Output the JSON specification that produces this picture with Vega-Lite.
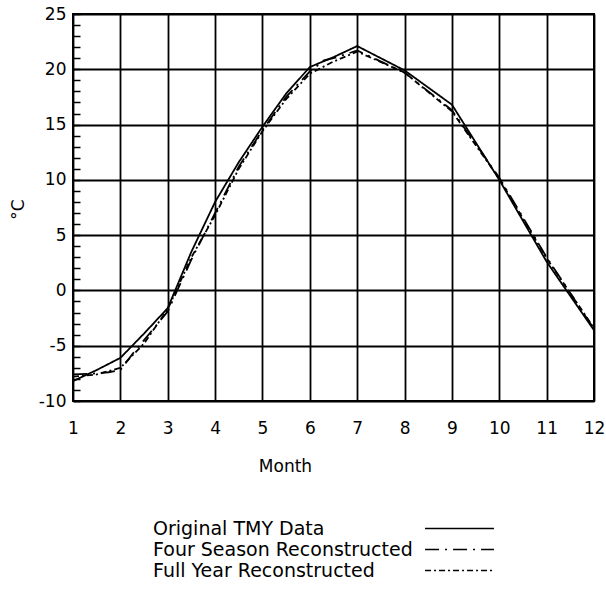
{
  "$schema": "https://vega.github.io/schema/vega-lite/v6.json",
  "width": 521,
  "height": 387,
  "autosize": "none",
  "padding": {"left": 73, "top": 14, "right": 12, "bottom": 190},
  "background": "white",
  "config": {"font": "DejaVu Sans", "view": {"stroke": "black", "strokeWidth": 2}},
  "data": {"values": [
    {"series": "Original TMY Data", "month": 1, "temp": -8.2},
    {"series": "Original TMY Data", "month": 1.5, "temp": -7.2},
    {"series": "Original TMY Data", "month": 2, "temp": -6.1},
    {"series": "Original TMY Data", "month": 2.5, "temp": -3.9},
    {"series": "Original TMY Data", "month": 3, "temp": -1.6},
    {"series": "Original TMY Data", "month": 3.5, "temp": 3.5},
    {"series": "Original TMY Data", "month": 4, "temp": 8.0},
    {"series": "Original TMY Data", "month": 4.5, "temp": 11.6},
    {"series": "Original TMY Data", "month": 5, "temp": 14.8},
    {"series": "Original TMY Data", "month": 5.5, "temp": 17.8},
    {"series": "Original TMY Data", "month": 6, "temp": 20.2},
    {"series": "Original TMY Data", "month": 6.5, "temp": 21.1},
    {"series": "Original TMY Data", "month": 7, "temp": 22.1},
    {"series": "Original TMY Data", "month": 8, "temp": 19.9},
    {"series": "Original TMY Data", "month": 9, "temp": 16.8},
    {"series": "Original TMY Data", "month": 10, "temp": 10.0},
    {"series": "Original TMY Data", "month": 11, "temp": 2.6},
    {"series": "Original TMY Data", "month": 12, "temp": -3.6},
    {"series": "Four Season Reconstructed", "month": 1, "temp": -7.6},
    {"series": "Four Season Reconstructed", "month": 1.5, "temp": -7.5},
    {"series": "Four Season Reconstructed", "month": 1.75, "temp": -7.4},
    {"series": "Four Season Reconstructed", "month": 2, "temp": -7.2},
    {"series": "Four Season Reconstructed", "month": 2.3, "temp": -5.5},
    {"series": "Four Season Reconstructed", "month": 2.5, "temp": -4.5},
    {"series": "Four Season Reconstructed", "month": 3, "temp": -1.9},
    {"series": "Four Season Reconstructed", "month": 3.5, "temp": 2.8},
    {"series": "Four Season Reconstructed", "month": 4, "temp": 7.0},
    {"series": "Four Season Reconstructed", "month": 4.5, "temp": 11.2},
    {"series": "Four Season Reconstructed", "month": 5, "temp": 14.5},
    {"series": "Four Season Reconstructed", "month": 5.5, "temp": 17.5},
    {"series": "Four Season Reconstructed", "month": 6, "temp": 19.8},
    {"series": "Four Season Reconstructed", "month": 6.3, "temp": 20.8},
    {"series": "Four Season Reconstructed", "month": 6.5, "temp": 21.0},
    {"series": "Four Season Reconstructed", "month": 7, "temp": 21.7},
    {"series": "Four Season Reconstructed", "month": 8, "temp": 19.7},
    {"series": "Four Season Reconstructed", "month": 9, "temp": 16.3},
    {"series": "Four Season Reconstructed", "month": 10, "temp": 10.2},
    {"series": "Four Season Reconstructed", "month": 11, "temp": 3.0},
    {"series": "Four Season Reconstructed", "month": 12, "temp": -3.5},
    {"series": "Full Year Reconstructed", "month": 1, "temp": -7.8},
    {"series": "Full Year Reconstructed", "month": 1.5, "temp": -7.6},
    {"series": "Full Year Reconstructed", "month": 2, "temp": -7.0},
    {"series": "Full Year Reconstructed", "month": 2.5, "temp": -4.8},
    {"series": "Full Year Reconstructed", "month": 3, "temp": -1.7},
    {"series": "Full Year Reconstructed", "month": 3.5, "temp": 3.0},
    {"series": "Full Year Reconstructed", "month": 4, "temp": 6.8},
    {"series": "Full Year Reconstructed", "month": 4.5, "temp": 11.0},
    {"series": "Full Year Reconstructed", "month": 5, "temp": 14.4},
    {"series": "Full Year Reconstructed", "month": 5.5, "temp": 17.3},
    {"series": "Full Year Reconstructed", "month": 6, "temp": 19.6},
    {"series": "Full Year Reconstructed", "month": 6.5, "temp": 20.7},
    {"series": "Full Year Reconstructed", "month": 7, "temp": 21.6},
    {"series": "Full Year Reconstructed", "month": 8, "temp": 19.7},
    {"series": "Full Year Reconstructed", "month": 9, "temp": 16.2},
    {"series": "Full Year Reconstructed", "month": 10, "temp": 10.1},
    {"series": "Full Year Reconstructed", "month": 11, "temp": 2.9},
    {"series": "Full Year Reconstructed", "month": 12, "temp": -3.4}
  ]},
  "mark": {"type": "line", "color": "black", "strokeWidth": 1.8},
  "encoding": {
    "x": {
      "field": "month", "type": "quantitative",
      "scale": {"domain": [1, 12], "nice": false, "zero": false},
      "axis": {
        "values": [1,2,3,4,5,6,7,8,9,10,11,12],
        "title": "Month", "grid": true, "gridColor": "black", "gridWidth": 1.8, "gridOpacity": 1,
        "ticks": false, "domain": false,
        "labelFontSize": 17, "labelPadding": 19, "labelColor": "black", "labelFlush": false,
        "titleFontSize": 17, "titleFontWeight": "normal", "titleColor": "black",
        "titleX": 212, "titleY": 57, "titleBaseline": "top", "titleAlign": "center", "titleAnchor": null
      }
    },
    "y": {
      "field": "temp", "type": "quantitative",
      "scale": {"domain": [-10, 25], "nice": false, "zero": false},
      "axis": {
        "values": [-10,-9,-8,-7,-6,-5,-4,-3,-2,-1,0,1,2,3,4,5,6,7,8,9,10,11,12,13,14,15,16,17,18,19,20,21,22,23,24,25],
        "labelExpr": "datum.value % 5 === 0 ? '' + datum.value : ''",
        "grid": true, "gridColor": "black", "gridWidth": 1.8,
        "gridOpacity": {"condition": {"test": "datum.value % 5 === 0", "value": 1}, "value": 0},
        "ticks": true, "tickSize": -7, "tickColor": "black", "tickWidth": 1.5,
        "domain": false,
        "labelFontSize": 17, "labelPadding": 14, "labelColor": "black",
        "labelFlush": false, "labelOverlap": false,
        "title": "°C", "titleFontSize": 17, "titleFontWeight": "normal", "titleColor": "black",
        "titleAngle": 270, "titleX": -55, "titleY": 195, "titleAlign": "center", "titleBaseline": "middle", "titleAnchor": null
      }
    },
    "strokeDash": {
      "field": "series", "type": "nominal",
      "scale": {
        "domain": ["Original TMY Data", "Four Season Reconstructed", "Full Year Reconstructed"],
        "range": [[1, 0], [14, 6, 2, 6], [6, 3, 2, 3]]
      },
      "legend": {
        "orient": "none", "legendX": 377, "legendY": 505, "title": null,
        "symbolType": "M-5,0H5", "symbolSize": 190, "symbolStrokeColor": "black", "symbolStrokeWidth": 1.6,
        "symbolFillColor": "transparent",
        "labelFontSize": 19, "labelColor": "black", "labelAlign": "left", "labelOffset": -316, "labelLimit": 400,
        "rowPadding": 1
      }
    }
  }
}
